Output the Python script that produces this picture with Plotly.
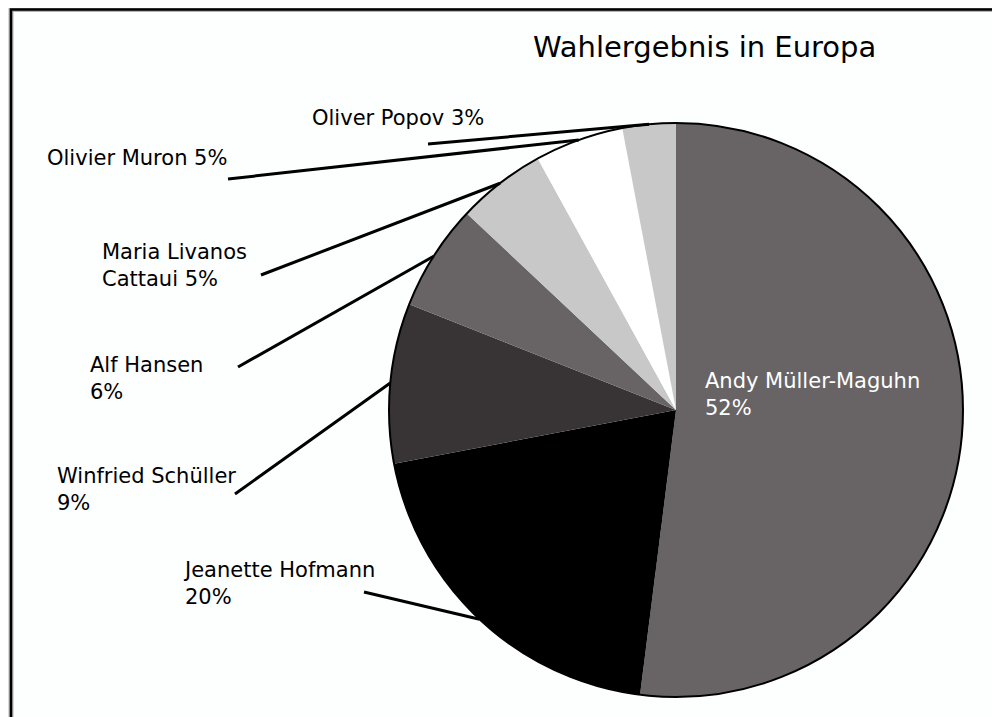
import math
import plotly.graph_objects as go

# ---- data ----
names = ["Andy Müller-Maguhn", "Jeanette Hofmann", "Winfried Schüller", "Alf Hansen",
         "Maria Livanos Cattaui", "Olivier Muron", "Oliver Popov"]
values = [52, 20, 9, 6, 5, 5, 3]
label_texts = ["Andy Müller-Maguhn<br>52%", "Jeanette Hofmann<br>20%", "Winfried Schüller<br>9%",
               "Alf Hansen<br>6%", "Maria Livanos<br>Cattaui 5%", "Olivier Muron 5%", "Oliver Popov 3%"]
slice_colors = ["#686466", "#000000", "#383436", "#686466", "#c8c8c8", "#ffffff", "#c8c8c8"]
title_text = "Wahlergebnis in Europa"

# ---- layout geometry (window pixels) ----
W, H = 1000, 717
OFF = 8  # page body margin
cx, cy, R = 676, 410, 287
FONT = "DejaVu Sans"

def px(x):
    return (x - OFF) / W

def py(y):
    return 1 - (y - OFF) / H

fig = go.Figure(go.Pie(
    labels=names, values=values, sort=False, direction="clockwise", rotation=0,
    marker=dict(colors=slice_colors, line=dict(width=0)),
    textinfo="none", hoverinfo="label+percent", showlegend=False,
    domain=dict(x=[px(cx - R), px(cx + R)], y=[py(cy + R), py(cy - R)]),
))

# label placement (left edge x, vertical centre y) and leader start points
label_pos = [(703, 394), (181, 583.5), (55, 489.5), (88, 378.5), (100, 266), (45, 158), (310, 118)]
leader_start = [None, (364, 592), (235, 494), (238, 367), (261, 275), (228, 179), (428, 144)]

annotations = [dict(text=title_text, x=px(704), y=py(47), xref="paper", yref="paper",
                    xanchor="center", yanchor="middle", showarrow=False,
                    font=dict(family=FONT, size=29, color="#000"))]
shapes = []

# outer frame (extends past the image on right/bottom)
shapes.append(dict(type="rect", xref="paper", yref="paper", x0=px(11), x1=1.5, y0=-0.5, y1=py(9.5),
                   line=dict(color="#b4b4b4", width=5), layer="above"))
shapes.append(dict(type="rect", xref="paper", yref="paper", x0=px(11), x1=1.5, y0=-0.5, y1=py(9.5),
                   line=dict(color="#000", width=2.5), layer="above"))

# pie outline
shapes.append(dict(type="circle", xref="paper", yref="paper",
                   x0=px(cx - R), x1=px(cx + R), y0=py(cy + R), y1=py(cy - R),
                   line=dict(color="#000", width=2), layer="above"))

total = sum(values)
cum = 0
for i, v in enumerate(values):
    mid = (cum + v / 2) / total * 2 * math.pi  # clockwise from 12 o'clock
    cum += v
    lx, ly = label_pos[i]
    annotations.append(dict(text=label_texts[i], x=px(lx), y=py(ly), xref="paper", yref="paper",
                            xanchor="left", yanchor="middle", align="left", showarrow=False,
                            font=dict(family=FONT, size=21, color="#fff" if i == 0 else "#000")))
    if leader_start[i] is not None:
        ex = cx + R * math.sin(mid)
        ey = cy - R * math.cos(mid)
        sx, sy = leader_start[i]
        shapes.append(dict(type="line", xref="paper", yref="paper",
                           x0=px(sx), y0=py(sy), x1=px(ex), y1=py(ey),
                           line=dict(color="#000", width=3), layer="above"))

fig.update_layout(width=W, height=H, margin=dict(l=0, r=0, t=0, b=0),
                  paper_bgcolor="#fdfefe", plot_bgcolor="#fdfefe",
                  annotations=annotations, shapes=shapes)

fig.write_html("out.html")
